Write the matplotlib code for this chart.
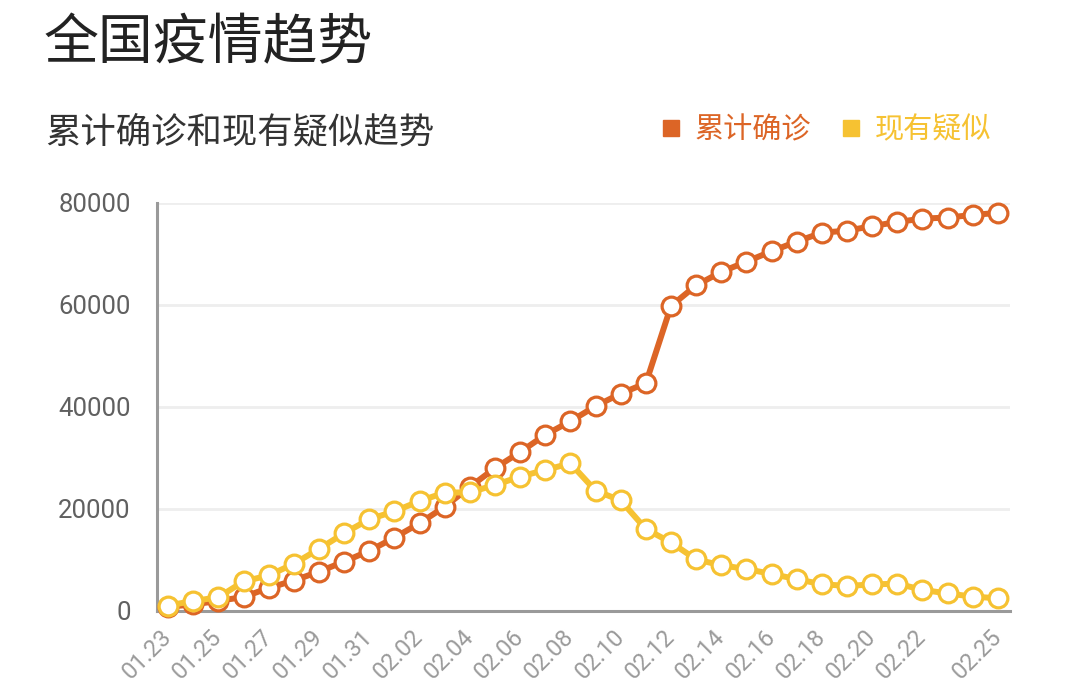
import matplotlib

matplotlib.use("Agg")
import matplotlib.pyplot as plt
from matplotlib.lines import Line2D

plt.rcParams["font.family"] = ["Noto Sans CJK SC", "DejaVu Sans"]

DATES = [
    "01.23", "01.24", "01.25", "01.26", "01.27", "01.28", "01.29", "01.30", "01.31",
    "02.01", "02.02", "02.03", "02.04", "02.05", "02.06", "02.07", "02.08", "02.09",
    "02.10", "02.11", "02.12", "02.13", "02.14", "02.15", "02.16", "02.17", "02.18",
    "02.19", "02.20", "02.21", "02.22", "02.23", "02.24", "02.25",
]
CONFIRMED = [
    830, 1287, 1975, 2744, 4515, 5974, 7711, 9692, 11791,
    14380, 17205, 20438, 24324, 28018, 31161, 34546, 37198, 40171,
    42638, 44653, 59804, 63851, 66492, 68500, 70548, 72436, 74185,
    74576, 75465, 76288, 76936, 77150, 77658, 78064,
]
SUSPECTED = [
    1072, 1965, 2684, 5794, 6973, 9239, 12167, 15238, 17988,
    19544, 21558, 23214, 23260, 24702, 26359, 27657, 28942, 23589,
    21675, 16067, 13435, 10109, 8969, 8228, 7264, 6242, 5248,
    4922, 5206, 5365, 4148, 3434, 2824, 2491,
]
TICK_LABELS = [
    "01.23", "01.25", "01.27", "01.29", "01.31", "02.02", "02.04", "02.06",
    "02.08", "02.10", "02.12", "02.14", "02.16", "02.18", "02.20", "02.22", "02.25",
]
Y_TICKS = [0, 20000, 40000, 60000, 80000]

SERIES = [
    ("累计确诊", CONFIRMED, "#dc6526"),
    ("现有疑似", SUSPECTED, "#f6c232"),
]

W, H = 1079, 691
fig = plt.figure(figsize=(W / 100, H / 100), dpi=100)
fig.patch.set_facecolor("white")

ax = fig.add_axes([157 / W, 1 - 611 / H, (1010 - 157) / W, (611 - 203) / H])

x = list(range(len(DATES)))
for label, values, color in SERIES:
    ax.plot(
        x,
        values,
        color=color,
        linewidth=4.3,
        marker="o",
        markersize=13.5,
        markerfacecolor="white",
        markeredgecolor=color,
        markeredgewidth=2.3,
        clip_on=False,
        zorder=3,
    )

ax.set_xlim(-0.44, len(DATES) - 1 + 0.48)
ax.set_ylim(0, 80000)

ax.set_yticks(Y_TICKS, [str(v) for v in Y_TICKS], family="Roboto", fontsize=18.5, color="#606060")
ax.tick_params(axis="y", length=0, pad=19)

tick_pos = [DATES.index(t) for t in TICK_LABELS]
ax.set_xticks(tick_pos)
ax.set_xticklabels(
    TICK_LABELS,
    rotation=45,
    ha="right",
    va="center",
    rotation_mode="anchor",
    family="Roboto",
    fontsize=17,
    color="#9a9a9a",
)
ax.tick_params(axis="x", length=0, pad=16)

ax.grid(axis="y", color="#eeeeee", linewidth=2)
ax.set_axisbelow(True)
for side in ("top", "right"):
    ax.spines[side].set_visible(False)
for side in ("left", "bottom"):
    ax.spines[side].set_color("#9a9a9a")
    ax.spines[side].set_linewidth(2.2)

fig.text(44 / W, 1 - 44 / H, "全国疫情趋势", fontsize=39.5, weight="medium", color="#222222", va="center", ha="left")
fig.text(45 / W, 1 - 132 / H, "累计确诊和现有疑似趋势", fontsize=25.5, color="#333333", va="center", ha="left")

handles = [
    Line2D([], [], linestyle="none", marker="s", markersize=11, color=color, label=label)
    for label, _, color in SERIES
]
leg = fig.legend(
    handles=handles,
    loc="center right",
    bbox_to_anchor=(1003 / W, 1 - 130 / H),
    ncol=2,
    frameon=False,
    fontsize=21,
    handletextpad=0.3,
    columnspacing=0.9,
    handlelength=1.0,
    borderaxespad=0,
)
for text, (_, _, color) in zip(leg.get_texts(), SERIES):
    text.set_color(color)

fig.savefig("out.png", dpi=100)
